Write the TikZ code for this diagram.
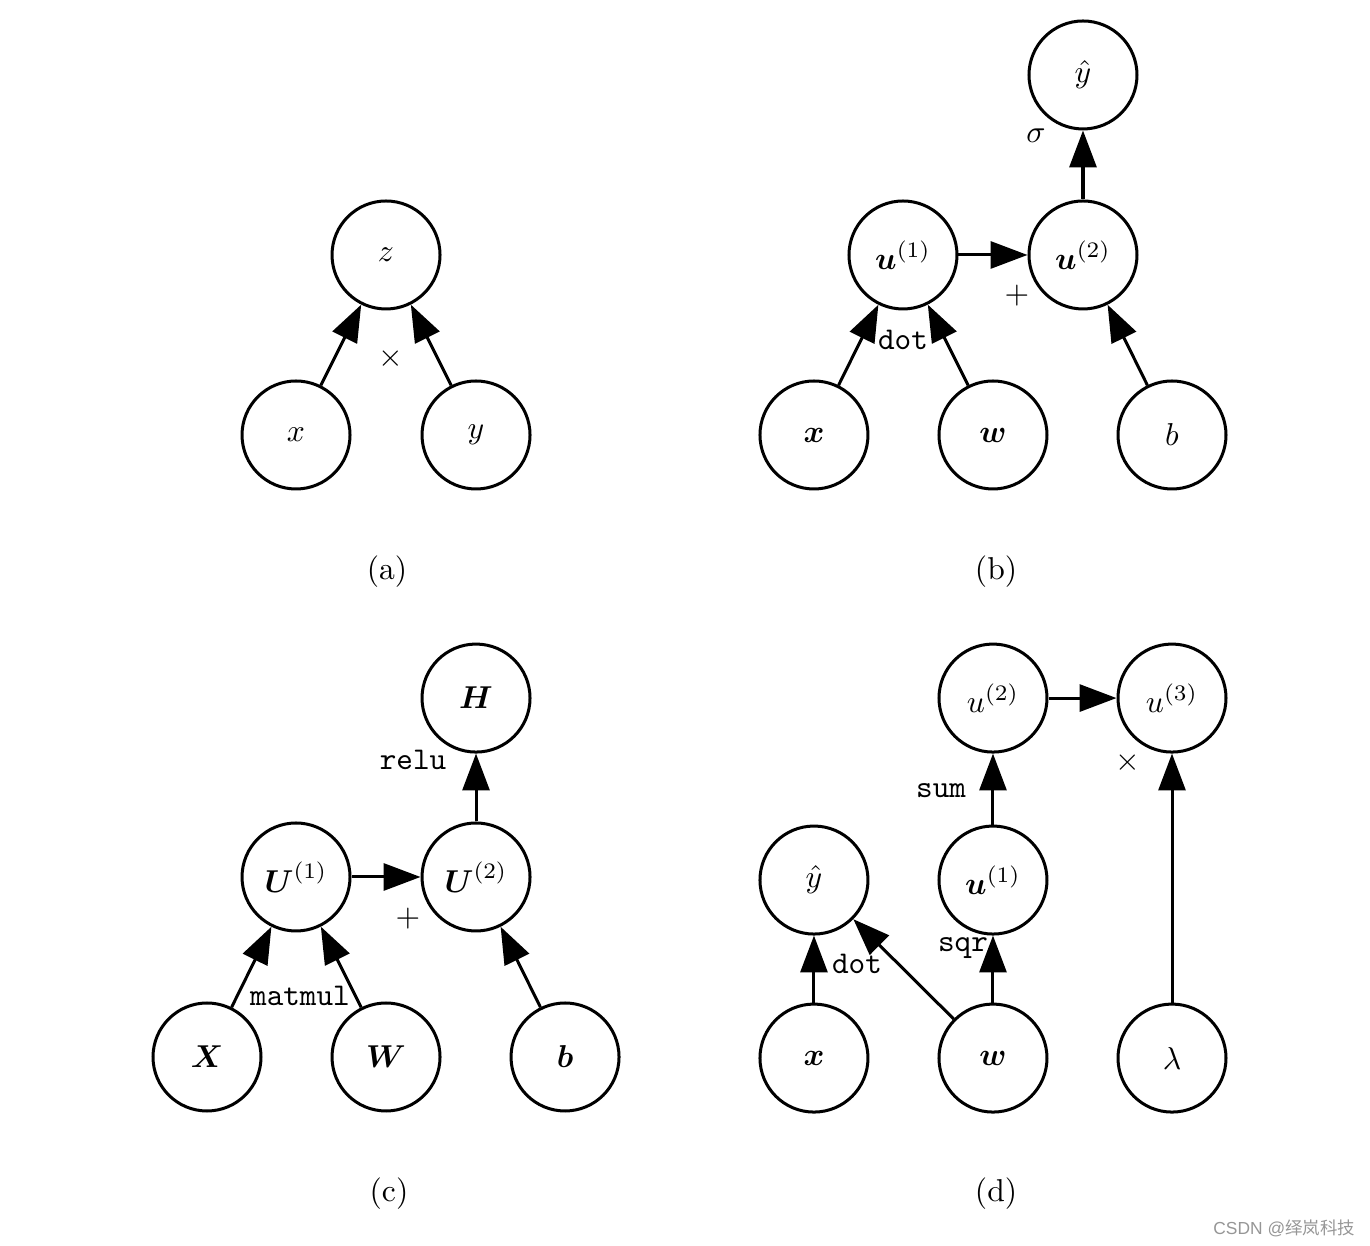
\documentclass[tikz,border=0pt]{standalone}
\usepackage{amsmath,amssymb}
\usepackage{xcolor}
\usepackage{fontspec}
\newfontfamily\cjk{Noto Sans CJK SC}
\newfontfamily\wmsans{Liberation Sans}
\usepackage{tikz}
\usetikzlibrary{arrows.meta}
\definecolor{wmgray}{RGB}{150,150,150}

\begin{document}
\begin{tikzpicture}[>={Triangle[length=0.41cm,width=0.3cm]},
			var/.style={circle,draw,line width=0.95pt,minimum size=1.2cm,inner sep=0pt},
			edge/.style={->,line width=0.95pt},
			oplabel/.style={inner sep=0pt},
			subcap/.style={inner sep=0pt},
			]
			% 画布大小
			\useasboundingbox (0,0) rectangle (15.222,-13.844);
			
			% (a)  z = x * y
			\node[var] (a-z) at (4.289,-2.833) {$z$};
			\node[var] (a-x) at (3.289,-4.833) {$x$};
			\node[var] (a-y) at (5.289,-4.833) {$y$};
			\draw[edge] (a-x)--(a-z);
			\draw[edge] (a-y)--(a-z);
			\node[oplabel] (a-op) at (4.344,-3.989) {$\times$};
			\node[subcap] (a-cap) at (4.3,-6.356) {(a)};
			
			% (b)  逻辑回归
			\node[var] (b-x) at (9.044,-4.833) {$\boldsymbol{x}$};
			\node[var] (b-w) at (11.033,-4.833) {$\boldsymbol{w}$};
			\node[var] (b-b) at (13.022,-4.833) {$b$};
			\node[var] (b-u1) at (10.033,-2.833) {$\boldsymbol{u}^{(1)}$};
			\node[var] (b-u2) at (12.033,-2.833) {$\boldsymbol{u}^{(2)}$};
			\node[var] (b-yhat) at (12.033,-0.833) {$\hat{y}$};
			\draw[edge] (b-x)--(b-u1);
			\draw[edge] (b-w)--(b-u1);
			\draw[edge] (b-u1)--(b-u2);
			\draw[edge] (b-b)--(b-u2);
			\draw[edge] (b-u2)--(b-yhat);
			\node[oplabel] (b-dot) at (10.033,-3.778) {\texttt{dot}};
			\node[oplabel] (b-plus) at (11.3,-3.289) {$+$};
			\node[oplabel] (b-sigma) at (11.511,-1.511) {$\sigma$};
			\node[subcap] (b-cap) at (11.067,-6.356) {(b)};
			
			% (c)  ReLU 隐藏层
			\node[var] (c-X) at (2.3,-11.744) {$\boldsymbol{X}$};
			\node[var] (c-W) at (4.289,-11.744) {$\boldsymbol{W}$};
			\node[var] (c-b) at (6.278,-11.744) {$\boldsymbol{b}$};
			\node[var] (c-U1) at (3.289,-9.744) {$\boldsymbol{U}^{(1)}$};
			\node[var] (c-U2) at (5.289,-9.744) {$\boldsymbol{U}^{(2)}$};
			\node[var] (c-H) at (5.289,-7.756) {$\boldsymbol{H}$};
			\draw[edge] (c-X)--(c-U1);
			\draw[edge] (c-W)--(c-U1);
			\draw[edge] (c-U1)--(c-U2);
			\draw[edge] (c-b)--(c-U2);
			\draw[edge] (c-U2)--(c-H);
			\node[oplabel] (c-matmul) at (3.333,-11.067) {\texttt{matmul}};
			\node[oplabel] (c-plus) at (4.533,-10.211) {$+$};
			\node[oplabel] (c-relu) at (4.589,-8.444) {\texttt{relu}};
			\node[subcap] (c-cap) at (4.322,-13.267) {(c)};
			
			% (d)  线性回归 + 权重衰减
			\node[var] (d-x) at (9.044,-11.756) {$\boldsymbol{x}$};
			\node[var] (d-w) at (11.033,-11.756) {$\boldsymbol{w}$};
			\node[var] (d-lam) at (13.022,-11.756) {$\lambda$};
			\node[var] (d-yhat) at (9.044,-9.778) {$\hat{y}$};
			\node[var] (d-u1) at (11.033,-9.778) {$\boldsymbol{u}^{(1)}$};
			\node[var] (d-u2) at (11.033,-7.756) {$u^{(2)}$};
			\node[var] (d-u3) at (13.022,-7.756) {$u^{(3)}$};
			\draw[edge] (d-x)--(d-yhat);
			\draw[edge] (d-w)--(d-yhat);
			\draw[edge] (d-w)--(d-u1);
			\draw[edge] (d-u1)--(d-u2);
			\draw[edge] (d-u2)--(d-u3);
			\draw[edge] (d-lam)--(d-u3);
			\node[oplabel] (d-dot) at (9.522,-10.711) {\texttt{dot}};
			\node[oplabel] (d-sqr) at (10.7,-10.533) {\texttt{sqr}};
			\node[oplabel] (d-sum) at (10.456,-8.789) {\texttt{sum}};
			\node[oplabel] (d-times) at (12.533,-8.478) {$\times$};
			\node[subcap] (d-cap) at (11.067,-13.267) {(d)};
			
			% 水印
			\node[anchor=east,inner sep=0pt,text=wmgray,font=\fontsize{5.5}{6}\selectfont] (mark) at (15.06,-13.644) {\wmsans CSDN @\cjk 绎岚科技};
		\end{tikzpicture}
\end{document}
